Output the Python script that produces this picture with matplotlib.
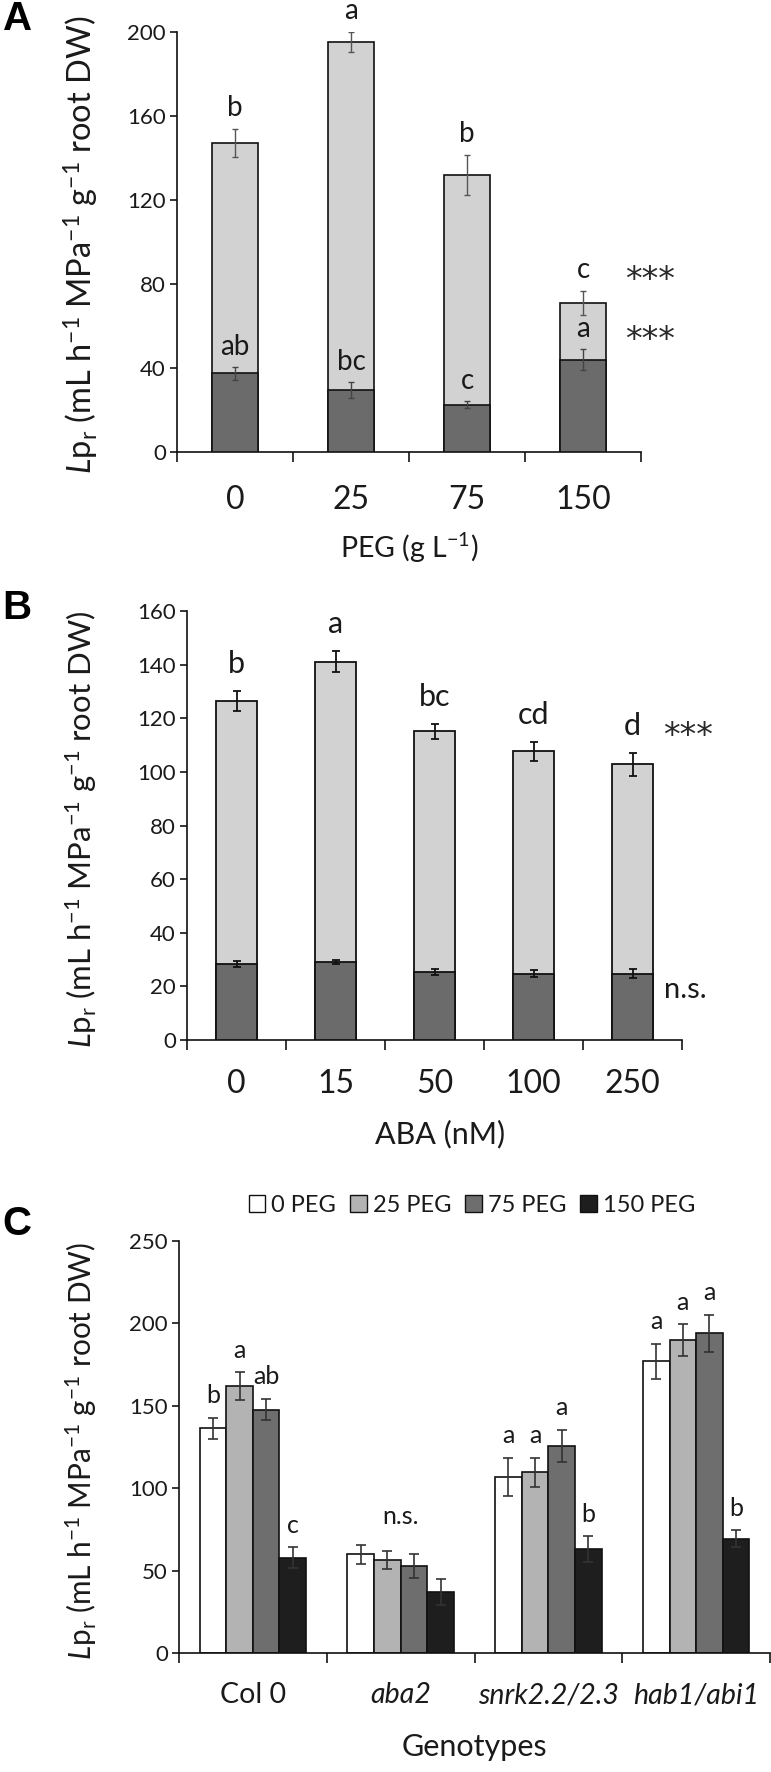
import numpy as np
import matplotlib
matplotlib.use('Agg')
import matplotlib.pyplot as plt
from matplotlib.patches import Patch

# ---------------- data ----------------
# Panel A : PEG treatment (light = total Lpr, dark = second component)
peg_levels = ['0', '25', '75', '150']
a_total = [147.0, 195.3, 131.9, 71.1]
a_total_err = [6.6, 4.7, 9.7, 5.8]
a_dark = [37.4, 29.3, 22.5, 43.9]
a_dark_err = [3.0, 3.8, 1.6, 5.0]
a_total_letters = ['b', 'a', 'b', 'c']
a_dark_letters = ['ab', 'bc', 'c', 'a']

# Panel B : ABA treatment
aba_levels = ['0', '15', '50', '100', '250']
b_total = [126.4, 141.1, 115.1, 107.6, 102.8]
b_total_err = [3.7, 4.0, 2.7, 3.7, 4.3]
b_dark = [28.4, 29.1, 25.3, 24.7, 24.8]
b_dark_err = [1.1, 0.8, 1.0, 1.3, 1.6]
b_letters = ['b', 'a', 'bc', 'cd', 'd']

# Panel C : genotypes x PEG
genotypes = ['Col 0', 'aba2', 'snrk2.2/2.3', 'hab1/abi1']
genotype_italic = [False, True, True, True]
c_series = ['0 PEG', '25 PEG', '75 PEG', '150 PEG']
c_peg0 = [136.3, 59.8, 107.0, 176.9]
c_peg0_err = [6.5, 5.8, 11.5, 10.9]
c_peg25 = [161.9, 56.2, 109.6, 189.9]
c_peg25_err = [8.4, 5.4, 9.0, 9.5]
c_peg75 = [147.7, 52.8, 125.9, 194.0]
c_peg75_err = [6.5, 7.3, 9.7, 11.3]
c_peg150 = [57.8, 37.0, 63.0, 69.4]
c_peg150_err = [6.3, 8.0, 7.8, 5.0]
c_letters = [['b', '', 'a', 'a'],
             ['a', '', 'a', 'a'],
             ['ab', '', 'a', 'a'],
             ['c', '', 'b', 'b']]

# ---------------- style ----------------
plt.rcParams['font.family'] = ['Lato', 'DejaVu Sans']
plt.rcParams['mathtext.fontset'] = 'custom'
plt.rcParams['mathtext.rm'] = 'Lato'
plt.rcParams['mathtext.it'] = 'Lato:italic'
plt.rcParams['mathtext.bf'] = 'Lato:bold'
TXT = '#1a1a1a'

W, H = 771, 1772
DPI = 100
fig = plt.figure(figsize=(W / DPI, H / DPI), dpi=DPI)
PX = 72.0 / DPI  # points per pixel


def add_axes_px(left, right, top, bottom):
    return fig.add_axes([left / W, 1 - bottom / H, (right - left) / W, (bottom - top) / H])


def style_axes(ax, n, ymax, ystep, labels, label_size, pad_pts):
    ax.set_xlim(-0.5, n - 0.5)
    ax.set_ylim(0, ymax)
    ax.set_yticks(np.arange(0, ymax + 0.1, ystep))
    ax.set_xticks(np.arange(n))
    ax.set_xticklabels(labels, fontsize=label_size, color=TXT)
    ax.set_xticks(np.arange(n + 1) - 0.5, minor=True)
    ax.tick_params(axis='x', which='major', length=0, pad=pad_pts)
    ax.tick_params(axis='x', which='minor', length=10 * PX, width=1.1, direction='out')
    ax.tick_params(axis='y', length=7 * PX, width=1.1, direction='out', labelsize=16,
                   labelcolor=TXT, pad=3)
    for s in ['top', 'right']:
        ax.spines[s].set_visible(False)
    for s in ['left', 'bottom']:
        ax.spines[s].set_linewidth(1.2)
        ax.spines[s].set_color('#111111')


ylabel = r'$\mathit{L}$p$_\mathrm{r}$ (mL h$^{-1}$ MPa$^{-1}$ g$^{-1}$ root DW)'

LIGHT = '#d2d2d2'
DARK = '#6b6b6b'
STAR = dict(fontsize=24, color='#2a2a2a', family=['DejaVu Sans'])

# ---------------- Panel A ----------------
axA = add_axes_px(177, 641, 32, 452)
xA = np.arange(len(peg_levels))
axA.bar(xA, a_total, width=0.40, color=LIGHT, edgecolor='#111111', linewidth=1.2, zorder=2)
axA.bar(xA, a_dark, width=0.40, color=DARK, edgecolor='#111111', linewidth=1.2, zorder=3)
axA.errorbar(xA, a_total, yerr=a_total_err, fmt='none', ecolor='#555555', elinewidth=1.0,
             capsize=2, capthick=1.0, zorder=4)
axA.errorbar(xA, a_dark, yerr=a_dark_err, fmt='none', ecolor='#444444', elinewidth=1.0,
             capsize=2, capthick=1.0, zorder=4)
style_axes(axA, len(peg_levels), 200, 40, peg_levels, 23, 24)
for i in range(len(peg_levels)):
    axA.annotate(a_total_letters[i], (xA[i], a_total[i] + a_total_err[i]),
                 xytext=(0, 21 * PX), textcoords='offset points', ha='center', va='center',
                 fontsize=20, color=TXT)
    axA.annotate(a_dark_letters[i], (xA[i], a_dark[i] + a_dark_err[i]),
                 xytext=(0, 20 * PX), textcoords='offset points', ha='center', va='center',
                 fontsize=20, color=TXT)
last = len(peg_levels) - 1
axA.annotate('***', (xA[last], a_total[last] + a_total_err[last]), xytext=(67 * PX, 10 * PX),
             textcoords='offset points', ha='center', va='center', **STAR)
axA.annotate('***', (xA[last], a_dark[last] + a_dark_err[last]), xytext=(67 * PX, 9 * PX),
             textcoords='offset points', ha='center', va='center', **STAR)
fig.text(409 / W, 1 - 548 / H, r'PEG (g L$^{-1}$)', ha='center', va='center', fontsize=20.5,
         color=TXT)
fig.text(81 / W, 1 - 245 / H, ylabel, rotation=90, ha='center', va='center', fontsize=23.5,
         color=TXT)
fig.text(3 / W, 1 - 19 / H, 'A', ha='left', va='center', fontsize=29, fontweight='bold',
         family='Liberation Sans')

# ---------------- Panel B ----------------
axB = add_axes_px(187, 682, 611, 1040)
xB = np.arange(len(aba_levels))
axB.bar(xB, b_total, width=0.41, color=LIGHT, edgecolor='#111111', linewidth=1.3, zorder=2)
axB.bar(xB, b_dark, width=0.41, color=DARK, edgecolor='#111111', linewidth=1.3, zorder=3)
axB.errorbar(xB, b_total, yerr=b_total_err, fmt='none', ecolor='#111111', elinewidth=1.3,
             capsize=3, capthick=1.3, zorder=4)
axB.errorbar(xB, b_dark, yerr=b_dark_err, fmt='none', ecolor='#111111', elinewidth=1.3,
             capsize=3, capthick=1.3, zorder=4)
style_axes(axB, len(aba_levels), 160, 20, aba_levels, 23, 21)
for i in range(len(aba_levels)):
    axB.annotate(b_letters[i], (xB[i], b_total[i] + b_total_err[i]),
                 xytext=(0, 27 * PX), textcoords='offset points', ha='center', va='center',
                 fontsize=22, color=TXT)
last = len(aba_levels) - 1
axB.annotate('***', (xB[last], b_total[last] + b_total_err[last]), xytext=(55 * PX, 16 * PX),
             textcoords='offset points', ha='center', va='center', **STAR)
axB.annotate('n.s.', (xB[last], b_dark[last]), xytext=(53 * PX, -16 * PX),
             textcoords='offset points', ha='center', va='center', fontsize=21, color=TXT)
fig.text(440 / W, 1 - 1134 / H, 'ABA (nM)', ha='center', va='center', fontsize=22, color=TXT)
fig.text(81 / W, 1 - 829 / H, ylabel, rotation=90, ha='center', va='center', fontsize=22.4,
         color=TXT)
fig.text(2 / W, 1 - 608 / H, 'B', ha='left', va='center', fontsize=29, fontweight='bold',
         family='Liberation Sans')

# ---------------- Panel C ----------------
axC = add_axes_px(179, 770, 1241, 1653)
xC = np.arange(len(genotypes))
vals = [c_peg0, c_peg25, c_peg75, c_peg150]
errs = [c_peg0_err, c_peg25_err, c_peg75_err, c_peg150_err]
colors = ['#ffffff', '#b3b3b3', '#6e6e6e', '#1e1e1e']
bw = 0.18
for k in range(4):
    xs = xC + (k - 1.5) * bw
    axC.bar(xs, vals[k], width=bw, color=colors[k], edgecolor='#111111', linewidth=1.2,
            zorder=2)
    axC.errorbar(xs, vals[k], yerr=errs[k], fmt='none', ecolor='#333333', elinewidth=1.2,
                 capsize=3.5, capthick=1.2, zorder=4)
    for i in range(len(genotypes)):
        if c_letters[k][i]:
            axC.annotate(c_letters[k][i], (xs[i], vals[k][i] + errs[k][i]),
                         xytext=(0, 22 * PX), textcoords='offset points', ha='center',
                         va='center', fontsize=18, color=TXT)
style_axes(axC, len(genotypes), 250, 50, genotypes, 20.5, 21)
for lab, it in zip(axC.get_xticklabels(), genotype_italic):
    if it:
        lab.set_style('italic')
ns_i = 1
ns_top = max(vals[k][ns_i] + errs[k][ns_i] for k in range(4))
axC.annotate('n.s.', (xC[ns_i], ns_top), xytext=(0, 28 * PX), textcoords='offset points',
             ha='center', va='center', fontsize=18, color=TXT)
handles = [Patch(facecolor=colors[k], edgecolor='#111111', linewidth=1.0, label=c_series[k])
           for k in range(4)]
fig.legend(handles=handles, loc='center', bbox_to_anchor=(472 / W, 1 - 1205 / H), ncol=4,
           frameon=False, fontsize=17, handlelength=0.7, handleheight=0.7,
           handletextpad=0.25, columnspacing=0.6, labelcolor=TXT)
fig.text(474 / W, 1 - 1747 / H, 'Genotypes', ha='center', va='center', fontsize=22, color=TXT)
fig.text(81 / W, 1 - 1451 / H, ylabel, rotation=90, ha='center', va='center', fontsize=21.4,
         color=TXT)
fig.text(2 / W, 1 - 1224 / H, 'C', ha='left', va='center', fontsize=29, fontweight='bold',
         family='Liberation Sans')

fig.savefig('out.png', dpi=DPI)
